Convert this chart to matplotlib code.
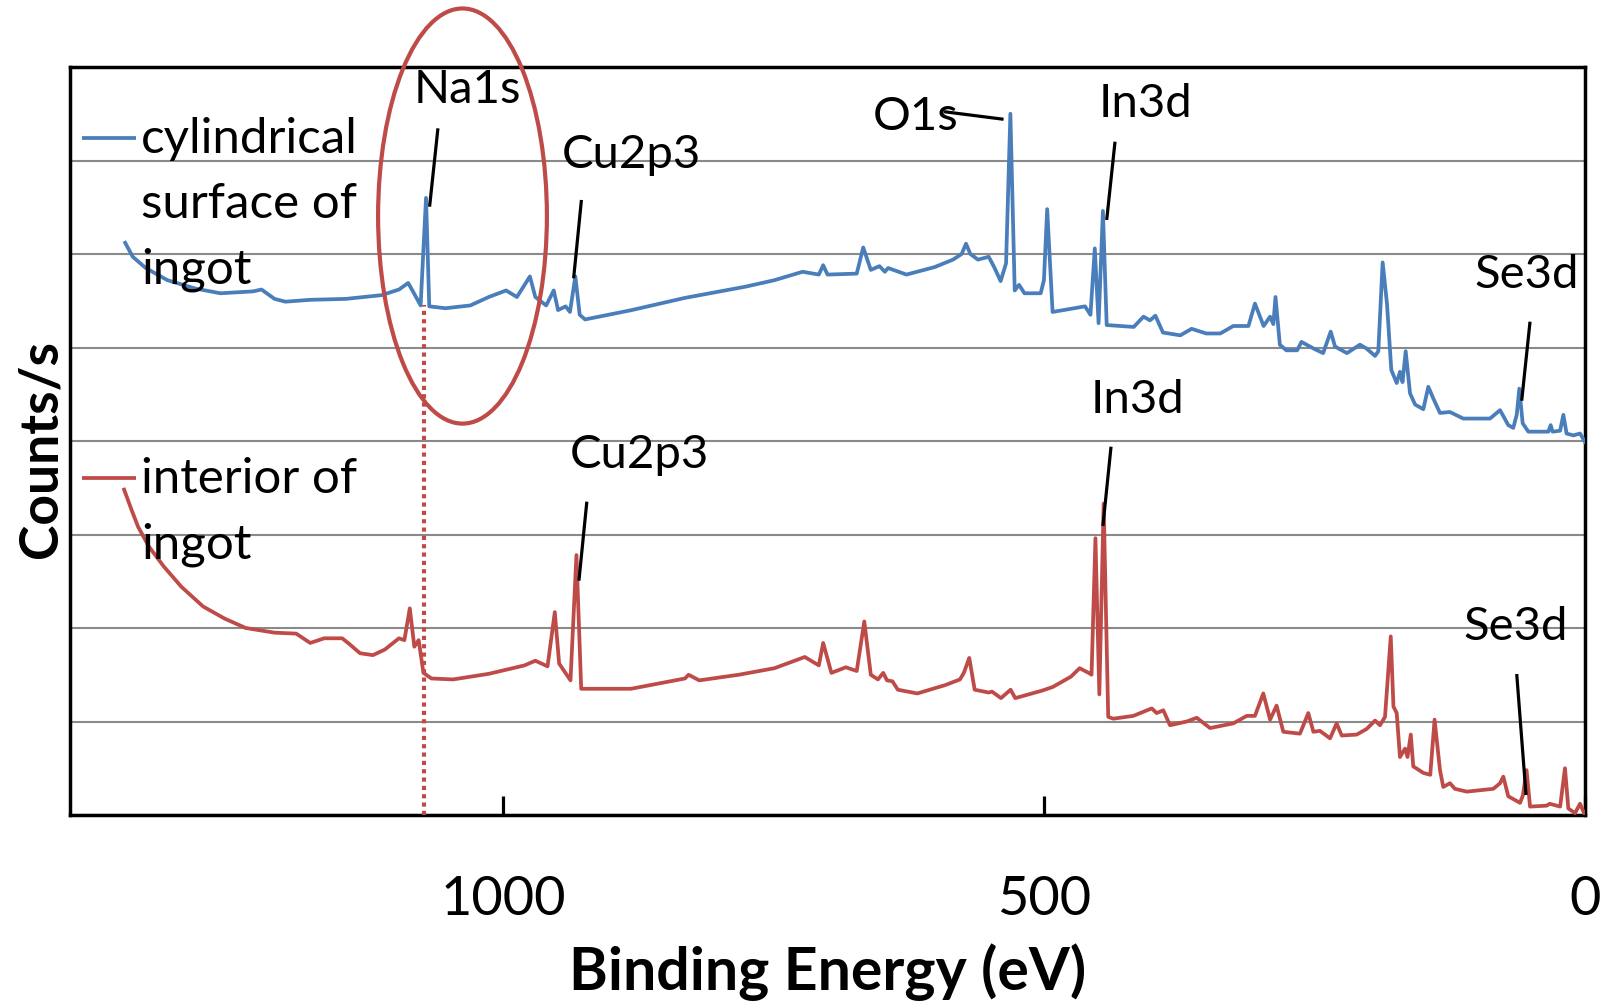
import matplotlib
matplotlib.use("Agg")
import matplotlib.pyplot as plt
from matplotlib.patches import Ellipse

plt.rcParams["font.family"] = ["Lato", "DejaVu Sans"]

# ---------------------------------------------------------------- data
# XPS survey spectra (binding energy in eV, counts/s in arbitrary offset units)
surface_ev = [1349, 1342, 1330, 1310, 1284, 1261, 1231, 1223, 1211, 1201, 1178, 1145,
              1112, 1096, 1087.5, 1082.6, 1076, 1071, 1068, 1053, 1030, 1013, 997, 987,
              975, 970, 960, 953, 949, 942, 938, 933, 929, 924, 881, 832, 776, 749,
              723, 708, 704, 700, 673, 667, 660, 652, 647, 644, 627, 601, 584, 576,
              572, 568, 561, 551, 546, 540, 535, 531, 527, 523, 518, 503, 500, 497,
              492, 462, 457, 453, 449.5, 445.5, 442, 417, 408, 402, 397, 390, 374,
              363.5, 350, 337, 325, 311, 305, 297, 291, 288, 286, 282, 276, 266, 262,
              251, 242, 235, 231, 220, 208, 202, 194, 191, 187, 183, 179, 174, 171,
              168.6, 165.7, 161.7, 157, 149.4, 144.8, 140, 134, 124.8, 112.5, 87.8,
              78.5, 70.9, 66.3, 63.1, 60.7, 57.6, 52.4, 33.9, 31.7, 30, 23, 20, 17,
              10.8, 4.6, 0]
surface_counts = [6.12, 5.97, 5.85, 5.72, 5.63, 5.58, 5.60, 5.62, 5.52, 5.49, 5.51, 5.52,
                  5.56, 5.62, 5.69, 5.59, 5.45, 6.60, 5.44, 5.42, 5.45, 5.54, 5.61, 5.54,
                  5.76, 5.54, 5.45, 5.61, 5.40, 5.44, 5.38, 5.76, 5.35, 5.30, 5.40, 5.53,
                  5.65, 5.72, 5.81, 5.78, 5.88, 5.78, 5.79, 6.07, 5.83, 5.87, 5.81, 5.85,
                  5.78, 5.86, 5.94, 6.00, 6.11, 6.00, 5.94, 5.97, 5.86, 5.71, 5.90, 7.50,
                  5.61, 5.67, 5.58, 5.58, 5.72, 6.48, 5.38, 5.44, 5.35, 6.06, 5.26, 6.46,
                  5.24, 5.22, 5.33, 5.29, 5.34, 5.16, 5.13, 5.20, 5.15, 5.15, 5.23, 5.23,
                  5.47, 5.23, 5.33, 5.25, 5.54, 5.03, 4.97, 4.97, 5.06, 4.99, 4.94, 5.17,
                  5.01, 4.94, 5.03, 4.99, 4.91, 4.96, 5.91, 5.47, 4.76, 4.62, 4.74, 4.63,
                  4.96, 4.51, 4.39, 4.34, 4.58, 4.45, 4.30, 4.31, 4.24, 4.24, 4.33, 4.17,
                  4.14, 4.28, 4.56, 4.19, 4.10, 4.10, 4.17, 4.10, 4.11, 4.28, 4.08, 4.06,
                  4.08, 3.99]

interior_ev = [1350, 1343, 1337, 1327, 1313.5, 1297, 1277, 1257, 1237.6, 1211, 1191, 1178,
               1165, 1148.5, 1142, 1132, 1120, 1109, 1096, 1091, 1086, 1081.8, 1077.8,
               1073.4, 1066, 1046, 1013, 980, 970, 958.7, 952, 948, 937.5, 932, 927.6,
               881.6, 831.7, 828.4, 818.5, 782, 749, 721, 708, 704, 696.4, 683, 673, 666,
               660, 653.4, 648.5, 645, 640, 635, 617, 591, 577.6, 574, 569, 564, 551,
               548, 539.7, 530.8, 526.5, 501.8, 491.7, 475, 467, 458.7, 456, 452.4,
               448.8, 444.8, 440.6, 436, 417.4, 400.4, 395.8, 389.7, 383.5, 368, 358.8,
               346.5, 325, 312.6, 305, 297.3, 291, 285, 278.8, 263.4, 255.7, 251, 245,
               235.6, 229.5, 224.8, 211, 201.8, 194, 189.4, 184.8, 179.5, 177, 174, 171,
               166.3, 164, 161, 158.7, 149.4, 143, 139, 134, 131, 124.8, 120.2, 109.3,
               84.7, 78.5, 75.5, 70.9, 60, 57.4, 54, 50.8, 35.4, 32.7, 23, 18.5, 15.4,
               9.2, 4.6, 0]
interior_counts = [3.48, 3.26, 3.08, 2.87, 2.66, 2.44, 2.23, 2.10, 2.00, 1.95, 1.94, 1.84,
                   1.89, 1.89, 1.83, 1.73, 1.71, 1.77, 1.89, 1.87, 2.21, 1.80, 1.87,
                   1.52, 1.46, 1.45, 1.51, 1.60, 1.65, 1.59, 2.17, 1.62, 1.44, 2.78, 1.35,
                   1.35, 1.46, 1.50, 1.44, 1.50, 1.57, 1.69, 1.60, 1.84, 1.52, 1.58, 1.54,
                   2.07, 1.50, 1.45, 1.52, 1.44, 1.43, 1.34, 1.30, 1.39, 1.45, 1.52, 1.68,
                   1.34, 1.31, 1.32, 1.25, 1.34, 1.25, 1.33, 1.37, 1.48, 1.57, 1.52, 1.50,
                   2.96, 1.29, 3.33, 1.05, 1.03, 1.06, 1.14, 1.09, 1.12, 0.96, 1.00, 1.04,
                   0.93, 0.98, 1.06, 1.06, 1.30, 1.02, 1.17, 0.89, 0.87, 1.09, 0.89, 0.90,
                   0.82, 0.98, 0.85, 0.86, 0.92, 1.01, 0.96, 1.05, 1.91, 1.16, 1.09, 0.62,
                   0.71, 0.62, 0.86, 0.52, 0.45, 0.43, 1.02, 0.48, 0.30, 0.34, 0.28, 0.25,
                   0.28, 0.34, 0.41, 0.20, 0.13, 0.21, 0.48, 0.09, 0.10, 0.12, 0.09, 0.50,
                   0.07, 0.02, 0.12, 0.00]

series_labels = [["cylindrical", "surface of", "ingot"], ["interior of", "ingot"]]

# peak labels: (text, text x, text baseline y, leader start, leader end)
peak_labels = [
    ("Na1s", 1033.1, 7.612, (1060.0, 7.344), (1067.7, 6.506)),
    ("Cu2p3", 881.2, 6.917, (927.4, 6.578), (934.6, 5.740)),
    ("O1s", 618.9, 7.326, (592.3, 7.522), (537.3, 7.441)),
    ("In3d", 405.7, 7.468, (434.3, 7.201), (442.0, 6.364)),
    ("Se3d", 53.6, 5.633, (50.8, 5.276), (58.5, 4.431)),
    ("In3d", 413.1, 4.296, (438.0, 3.939), (445.5, 3.091)),
    ("Cu2p3", 873.7, 3.708, (922.4, 3.351), (929.7, 2.506)),
    ("Se3d", 63.8, 1.872, (63.1, 1.508), (54.5, 0.214)),
]

na1s_ev = 1073          # Na1s position marked on both spectra
na1s_marker_top = 5.45  # surface spectrum level at that energy

x_ticks = [1000, 500, 0]

# ---------------------------------------------------------------- style
BLUE = "#4A7EBB"
RED = "#BE4B48"
CURVE_LW = 2.7
LW = 2.3

fig = plt.figure(figsize=(16.08, 10.05), dpi=100)
ax = fig.add_axes([70 / 1608, 1 - 815 / 1005, 1515 / 1608, 748 / 1005])

ax.plot(surface_ev, surface_counts, color=BLUE, lw=CURVE_LW, zorder=3,
        solid_joinstyle="round")
ax.plot(interior_ev, interior_counts, color=RED, lw=CURVE_LW, zorder=3,
        solid_joinstyle="round")

ax.set_xlim(1400, 0)
ax.set_ylim(0, 8)
ax.set_xticks(x_ticks)
ax.set_xticklabels([str(t) for t in x_ticks])
ax.set_yticks(range(9))
ax.set_yticklabels([])
ax.tick_params(axis="y", length=0)
ax.tick_params(axis="x", direction="in", length=14, width=LW, labelsize=39,
               pad=43, colors="black")
ax.grid(axis="y", color="#8a8a8a", lw=1.5)
ax.set_axisbelow(True)
for s in ax.spines.values():
    s.set_linewidth(2.5)
    s.set_color("black")

ax.set_xlabel("Binding Energy (eV)", fontsize=42.5, fontweight="bold")
ax.xaxis.label.set_va("baseline")
ax.xaxis.set_label_coords(0.5, (815 - 990) / 748)
ax.set_ylabel("Counts/s", fontsize=38.5, fontweight="bold")
ax.yaxis.label.set_va("baseline")
ax.yaxis.set_label_coords((57 - 70) / 1515, 0.489)

# legend entries drawn beside the start of each spectrum
legend_rows = [(BLUE, 0.9047, [0.8846, 0.7977, 0.7108]),
               (RED, 0.4501, [0.4301, 0.3432])]
for (color, y_line, baselines), lines in zip(legend_rows, series_labels):
    ax.plot([0.0079, 0.0434], [y_line, y_line], transform=ax.transAxes,
            color=color, lw=CURVE_LW, solid_capstyle="butt", zorder=4)
    for text, yb in zip(lines, baselines):
        ax.text(0.0471, yb, text, transform=ax.transAxes, ha="left",
                va="baseline", fontsize=35.5, zorder=5)

# peak assignments with leader lines
for text, tx, ty, p0, p1 in peak_labels:
    ax.text(tx, ty, text, ha="center", va="baseline", fontsize=34, zorder=5)
    ax.plot([p0[0], p1[0]], [p0[1], p1[1]], color="black", lw=LW,
            solid_capstyle="butt", zorder=5, clip_on=False)

# Na1s marker: dotted guide and highlight ellipse
ax.plot([na1s_ev, na1s_ev], [0, na1s_marker_top], color=RED, lw=3,
        ls=(0, (1, 1)), dash_capstyle="butt", zorder=4)
ax.add_patch(Ellipse((1037.3, 6.406), width=156, height=4.44, fill=False,
                     ec=RED, lw=3, zorder=6, clip_on=False))

fig.savefig("out.png", dpi=100)
